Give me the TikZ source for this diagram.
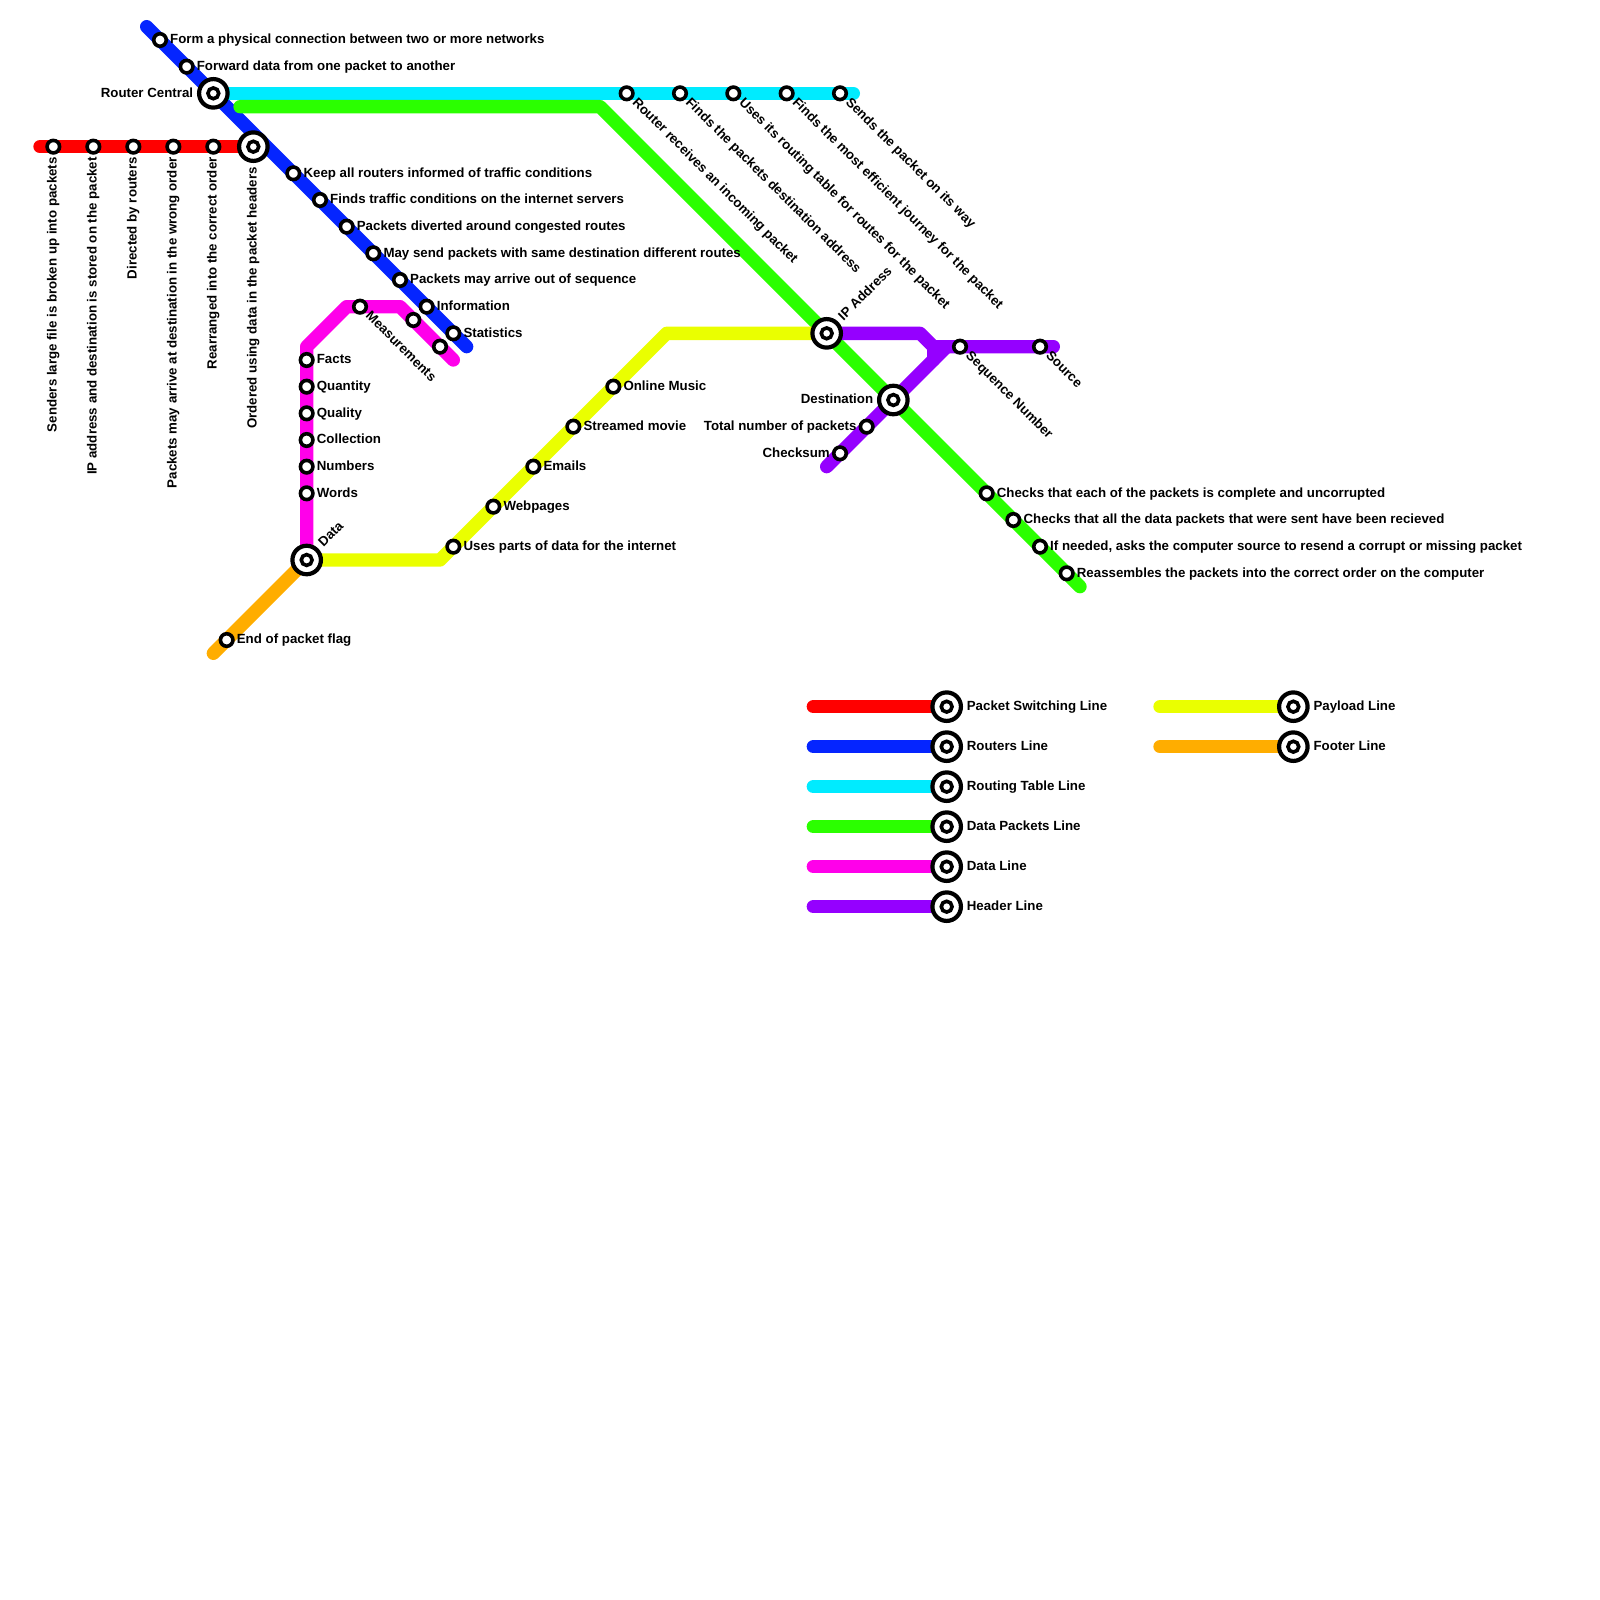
\documentclass[tikz,border=0pt]{standalone}
\usepackage{fontspec}
\setmainfont{Liberation Sans}
\usetikzlibrary{backgrounds}
\definecolor{redline}{HTML}{FF0000}
\definecolor{blueline}{HTML}{0525FF}
\definecolor{cyanline}{HTML}{00EBFF}
\definecolor{greenline}{HTML}{2BFF00}
\definecolor{pinkline}{HTML}{FF00EA}
\definecolor{purpleline}{HTML}{9500FF}
\definecolor{yellowline}{HTML}{EAFF00}
\definecolor{orangeline}{HTML}{FFAD00}
\tikzset{
  metro/.style={line width=1.3333mm,line cap=round,line join=round},
  stop/.style={circle,draw=black,fill=white,line width=0.36mm,inner sep=0pt,minimum size=1.25mm},
  hub/.style={circle,draw=black,fill=white,line width=0.42mm,inner sep=0pt,minimum size=2.85mm,
    path picture={\draw[black,line width=0.36mm] (path picture bounding box.center) circle (0.54mm);}},
  tag/.style={font=\fontsize{3.78pt}{4.5pt}\selectfont\bfseries,inner sep=0pt,text=black},
  tagE/.style={tag,anchor=base west,xshift=0.95mm,yshift=-0.38mm},
  tagW/.style={tag,anchor=base east,xshift=-0.95mm,yshift=-0.38mm},
  tagEE/.style={tag,anchor=base west,xshift=1.95mm,yshift=-0.38mm},
  tagWW/.style={tag,anchor=base east,xshift=-1.95mm,yshift=-0.38mm},
  tagS/.style={tag,rotate=90,anchor=base east,xshift=-1mm,yshift=-0.33mm},
  tagSS/.style={tag,rotate=90,anchor=base east,xshift=-2mm,yshift=-0.33mm},
  tagD/.style={tag,rotate=-45,anchor=base west,xshift=1mm,yshift=-0.33mm},
  tagU/.style={tag,rotate=45,anchor=base west,xshift=2mm,yshift=-0.33mm},
}
\begin{document}
\begin{tikzpicture}[x=1.3333mm,y=-1.3333mm]
  \useasboundingbox (0,0) rectangle (120,120);

  % line ends and bends
  \coordinate (reds) at (3,11);
  \coordinate (blues) at (11,2);
  \coordinate (bluee) at (35,26);
  \coordinate (cyane) at (64,7);
  \coordinate (greens) at (18,8);
  \coordinate (greenb) at (45,8);
  \coordinate (greene) at (81,44);
  \coordinate (pinkb1) at (23,26);
  \coordinate (pinkb2) at (26,23);
  \coordinate (pinkb3) at (30,23);
  \coordinate (pinke) at (34,27);
  \coordinate (yellowb1) at (33,42);
  \coordinate (yellowb2) at (50,25);
  \coordinate (oranges) at (16,49);
  \coordinate (purpleb1) at (69,25);
  \coordinate (purpleb2) at (70,26);
  \coordinate (purpleb3) at (70,27);
  \coordinate (purpleb4) at (71,26);
  \coordinate (purplee) at (79,26);
  \coordinate (purples) at (62,35);

  % interchanges
  \node[hub] (central) at (16,7) {};
  \node[hub] (ordered) at (19,11) {};
  \node[hub] (data) at (23,42) {};
  \node[hub] (ipaddr) at (62,25) {};
  \node[hub] (dest) at (67,30) {};

  \node[tagWW] (centralt) at (central) {Router Central};
  \node[tagSS] (orderedt) at (ordered) {Ordered using data in the packet headers};
  \node[tagU] (datat) at (data) {Data};
  \node[tagU] (ipaddrt) at (ipaddr) {IP Address};
  \node[tagWW] (destt) at (dest) {Destination};

  % packet switching
  \node[stop] (r1) at (4,11) {};
  \node[stop] (r2) at (7,11) {};
  \node[stop] (r3) at (10,11) {};
  \node[stop] (r4) at (13,11) {};
  \node[stop] (r5) at (16,11) {};
  \node[tagS] (r1t) at (r1) {Senders large file is broken up into packets};
  \node[tagS] (r2t) at (r2) {IP address and destination is stored on the packet};
  \node[tagS] (r3t) at (r3) {Directed by routers};
  \node[tagS] (r4t) at (r4) {Packets may arrive at destination in the wrong order};
  \node[tagS] (r5t) at (r5) {Rearranged into the correct order};

  % routers
  \node[stop] (b1) at (12,3) {};
  \node[stop] (b2) at (14,5) {};
  \node[stop] (b3) at (22,13) {};
  \node[stop] (b4) at (24,15) {};
  \node[stop] (b5) at (26,17) {};
  \node[stop] (b6) at (28,19) {};
  \node[stop] (b7) at (30,21) {};
  \node[stop] (b8) at (32,23) {};
  \node[stop] (b9) at (34,25) {};
  \node[tagE] (b1t) at (b1) {Form a physical connection between two or more networks};
  \node[tagE] (b2t) at (b2) {Forward data from one packet to another};
  \node[tagE] (b3t) at (b3) {Keep all routers informed of traffic conditions};
  \node[tagE] (b4t) at (b4) {Finds traffic conditions on the internet servers};
  \node[tagE] (b5t) at (b5) {Packets diverted around congested routes};
  \node[tagE] (b6t) at (b6) {May send packets with same destination different routes};
  \node[tagE] (b7t) at (b7) {Packets may arrive out of sequence};
  \node[tagE] (b8t) at (b8) {Information};
  \node[tagE] (b9t) at (b9) {Statistics};

  % routing table
  \node[stop] (c1) at (47,7) {};
  \node[stop] (c2) at (51,7) {};
  \node[stop] (c3) at (55,7) {};
  \node[stop] (c4) at (59,7) {};
  \node[stop] (c5) at (63,7) {};
  \node[tagD] (c1t) at (c1) {Router receives an incoming packet};
  \node[tagD] (c2t) at (c2) {Finds the packets destination address};
  \node[tagD] (c3t) at (c3) {Uses its routing table for routes for the packet};
  \node[tagD] (c4t) at (c4) {Finds the most efficient journey for the packet};
  \node[tagD] (c5t) at (c5) {Sends the packet on its way};

  % data packets
  \node[stop] (g1) at (74,37) {};
  \node[stop] (g2) at (76,39) {};
  \node[stop] (g3) at (78,41) {};
  \node[stop] (g4) at (80,43) {};
  \node[tagE] (g1t) at (g1) {Checks that each of the packets is complete and uncorrupted};
  \node[tagE] (g2t) at (g2) {Checks that all the data packets that were sent have been recieved};
  \node[tagE] (g3t) at (g3) {If needed, asks the computer source to resend a corrupt or missing packet};
  \node[tagE] (g4t) at (g4) {Reassembles the packets into the correct order on the computer};

  % data
  \node[stop] (p1) at (23,37) {};
  \node[stop] (p2) at (23,35) {};
  \node[stop] (p3) at (23,33) {};
  \node[stop] (p4) at (23,31) {};
  \node[stop] (p5) at (23,29) {};
  \node[stop] (p6) at (23,27) {};
  \node[stop] (p7) at (27,23) {};
  \node[stop] (p8) at (31,24) {};
  \node[stop] (p9) at (33,26) {};
  \node[tagE] (p1t) at (p1) {Words};
  \node[tagE] (p2t) at (p2) {Numbers};
  \node[tagE] (p3t) at (p3) {Collection};
  \node[tagE] (p4t) at (p4) {Quality};
  \node[tagE] (p5t) at (p5) {Quantity};
  \node[tagE] (p6t) at (p6) {Facts};
  \node[tagD] (p7t) at (p7) {Measurements};

  % payload
  \node[stop] (y1) at (34,41) {};
  \node[stop] (y2) at (37,38) {};
  \node[stop] (y3) at (40,35) {};
  \node[stop] (y4) at (43,32) {};
  \node[stop] (y5) at (46,29) {};
  \node[tagE] (y1t) at (y1) {Uses parts of data for the internet};
  \node[tagE] (y2t) at (y2) {Webpages};
  \node[tagE] (y3t) at (y3) {Emails};
  \node[tagE] (y4t) at (y4) {Streamed movie};
  \node[tagE] (y5t) at (y5) {Online Music};

  % footer
  \node[stop] (o1) at (17,48) {};
  \node[tagE] (o1t) at (o1) {End of packet flag};

  % header
  \node[stop] (h1) at (72,26) {};
  \node[stop] (h2) at (78,26) {};
  \node[stop] (h3) at (65,32) {};
  \node[stop] (h4) at (63,34) {};
  \node[tagD] (h1t) at (h1) {Sequence Number};
  \node[tagD] (h2t) at (h2) {Source};
  \node[tagW] (h3t) at (h3) {Total number of packets};
  \node[tagW] (h4t) at (h4) {Checksum};

  % legend
  \coordinate (lred) at (61,53);
  \coordinate (lblue) at (61,56);
  \coordinate (lcyan) at (61,59);
  \coordinate (lgreen) at (61,62);
  \coordinate (lpink) at (61,65);
  \coordinate (lpurple) at (61,68);
  \coordinate (lyellow) at (87,53);
  \coordinate (lorange) at (87,56);
  \node[hub] (kred) at (71,53) {};
  \node[hub] (kblue) at (71,56) {};
  \node[hub] (kcyan) at (71,59) {};
  \node[hub] (kgreen) at (71,62) {};
  \node[hub] (kpink) at (71,65) {};
  \node[hub] (kpurple) at (71,68) {};
  \node[hub] (kyellow) at (97,53) {};
  \node[hub] (korange) at (97,56) {};
  \node[tagEE] (kredt) at (kred) {Packet Switching Line};
  \node[tagEE] (kbluet) at (kblue) {Routers Line};
  \node[tagEE] (kcyant) at (kcyan) {Routing Table Line};
  \node[tagEE] (kgreent) at (kgreen) {Data Packets Line};
  \node[tagEE] (kpinkt) at (kpink) {Data Line};
  \node[tagEE] (kpurplet) at (kpurple) {Header Line};
  \node[tagEE] (kyellowt) at (kyellow) {Payload Line};
  \node[tagEE] (korranget) at (korange) {Footer Line};

  \begin{scope}[on background layer]
    \draw[metro,redline] (reds)--(ordered.center);
    \draw[metro,blueline] (blues)--(bluee);
    \draw[metro,cyanline] (central.center)--(cyane);
    \draw[metro,greenline] (greens)--(greenb)--(greene);
    \draw[metro,pinkline] (data.center)--(pinkb1)--(pinkb2)--(pinkb3)--(pinke);
    \draw[metro,yellowline] (data.center)--(yellowb1)--(yellowb2)--(ipaddr.center);
    \draw[metro,orangeline] (data.center)--(oranges);
    \draw[metro,purpleline] (ipaddr.center)--(purpleb1)--(purpleb2)--(purplee);
    \draw[metro,purpleline] (purpleb2)--(purpleb3);
    \draw[metro,purpleline] (purpleb4)--(purples);

    \draw[metro,redline] (lred)--(kred.center);
    \draw[metro,blueline] (lblue)--(kblue.center);
    \draw[metro,cyanline] (lcyan)--(kcyan.center);
    \draw[metro,greenline] (lgreen)--(kgreen.center);
    \draw[metro,pinkline] (lpink)--(kpink.center);
    \draw[metro,purpleline] (lpurple)--(kpurple.center);
    \draw[metro,yellowline] (lyellow)--(kyellow.center);
    \draw[metro,orangeline] (lorange)--(korange.center);
  \end{scope}
\end{tikzpicture}
\end{document}
